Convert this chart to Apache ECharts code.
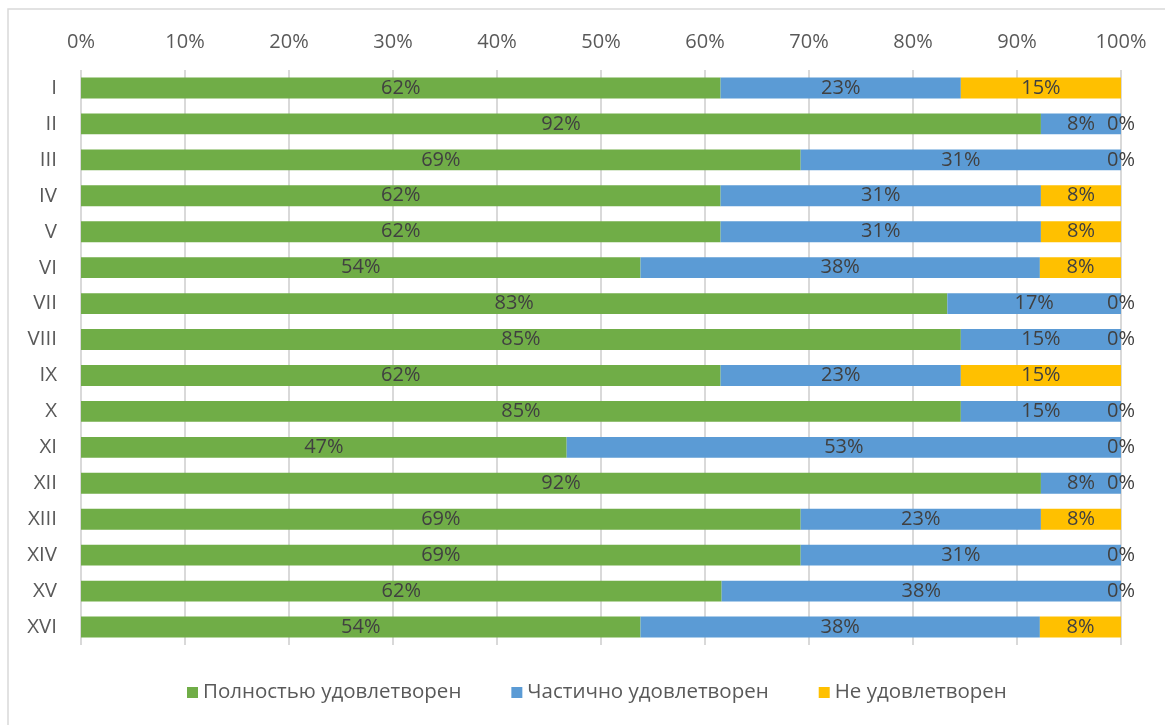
<!DOCTYPE html>
<html lang="ru">
<head>
<meta charset="utf-8">
<title>Удовлетворённость</title>
<script src="https://cdn.jsdelivr.net/npm/echarts@6/dist/echarts.min.js"></script>
<style type="text/css">
html, body { margin: 0; padding: 0; background: #fff; }
#chart { width: 1165px; height: 725px; }
</style>
</head>
<body>
<div id="chart"></div>
<script>
// категории (строки)
var categories = ['I', 'II', 'III', 'IV', 'V', 'VI', 'VII', 'VIII', 'IX', 'X', 'XI', 'XII', 'XIII', 'XIV', 'XV', 'XVI'];
// доли, %
var fullySatisfied   = [61.5, 92.3, 69.2, 61.5, 61.5, 53.8, 83.3, 84.6, 61.5, 84.6, 46.7, 92.3, 69.2, 69.2, 61.6, 53.8];
var partlySatisfied  = [23.1, 7.7, 30.8, 30.8, 30.8, 38.4, 16.7, 15.4, 23.1, 15.4, 53.3, 7.7, 23.1, 30.8, 38.4, 38.4];
var notSatisfied     = [15.4, 0, 0, 7.7, 7.7, 7.8, 0, 0, 15.4, 0, 0, 0, 7.7, 0, 0, 7.8];
var seriesNames = ['Полностью удовлетворен', 'Частично удовлетворен', 'Не удовлетворен'];
var colors = ['#70AD47', '#5B9BD5', '#FFC000'];

var font = 'Open Sans';

function makeSeries(name, data, color) {
  return {
    name: name,
    type: 'bar',
    stack: 'total',
    barCategoryGap: '42%',
    data: data,
    itemStyle: { color: color },
    label: {
      show: true,
      position: 'inside',
      color: '#404040',
      fontFamily: font,
      fontSize: 20,
      formatter: function (p) { return Math.round(p.value) + '%'; }
    }
  };
}

var chart = echarts.init(document.getElementById('chart'), null, { renderer: 'canvas' });
chart.setOption({
  animation: false,
  backgroundColor: '#fff',
  color: colors,
  graphic: [{
    type: 'rect',
    shape: { x: 8, y: 9, width: 1170, height: 730 },
    style: { fill: 'none', stroke: '#d9d9d9', lineWidth: 1.5 },
    silent: true
  }],
  grid: { left: 81, right: 44, top: 70, bottom: 80 },
  legend: {
    bottom: 17,
    left: 182,
    itemWidth: 11,
    itemHeight: 11,
    itemGap: 50,
    icon: 'rect',
    textStyle: { color: '#595959', fontFamily: font, fontSize: 20.5 }
  },
  xAxis: {
    type: 'value',
    position: 'top',
    min: 0,
    max: 100,
    interval: 10,
    axisLine: { show: false },
    axisTick: { show: false },
    splitLine: { lineStyle: { color: '#d9d9d9', width: 2 } },
    axisLabel: { formatter: '{value}%', color: '#595959', fontFamily: font, fontSize: 20, margin: 18 }
  },
  yAxis: {
    type: 'category',
    inverse: true,
    data: categories,
    axisLine: { show: false },
    axisTick: { show: false },
    axisLabel: { color: '#595959', fontFamily: font, fontSize: 20.5, margin: 24 }
  },
  series: [
    makeSeries(seriesNames[0], fullySatisfied, colors[0]),
    makeSeries(seriesNames[1], partlySatisfied, colors[1]),
    makeSeries(seriesNames[2], notSatisfied, colors[2])
  ]
});
</script>
</body>
</html>
